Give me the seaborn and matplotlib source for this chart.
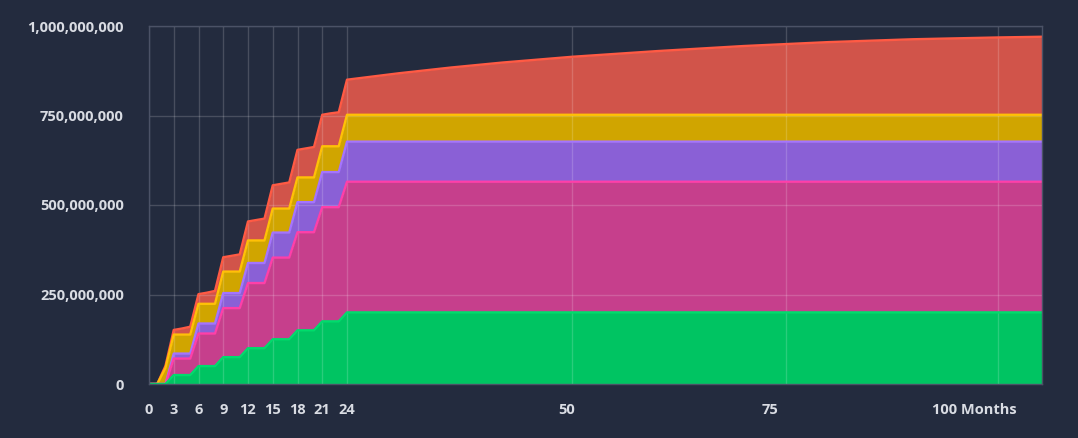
import numpy as np
import pandas as pd
import matplotlib
matplotlib.use("Agg")
import matplotlib.pyplot as plt
import seaborn as sns
from matplotlib.ticker import FuncFormatter
from matplotlib.transforms import ScaledTranslation

# ---------------- data (millions of tokens) ----------------
months = list(range(0, 25)) + [30, 36, 42, 50, 60, 70, 80, 90, 100, 105]

green = [0, 0, 0, 25, 25, 25, 50, 50, 50, 75, 75, 75, 100, 100, 100, 125, 125, 125,
         150, 150, 150, 175, 175, 175, 200] + [200] * 10
pink = [0, 0, 0, 46, 46, 46, 91, 91, 91, 137, 137, 137, 182, 182, 182, 228, 228, 228,
        274, 274, 274, 319, 319, 319, 365] + [365] * 10
purple = [0, 0, 0, 14, 14, 14, 28, 28, 28, 42, 42, 42, 56, 56, 56, 70, 70, 70,
          84, 84, 84, 98, 98, 98, 112] + [112] * 10
gold = [0, 0, 45, 53, 53, 53, 55, 55, 55, 60, 60, 60, 63, 63, 63, 67, 67, 67,
        69, 69, 69, 72, 72, 72, 75] + [75] * 10
red = [0, 0, 6, 13, 17, 22, 27, 31, 36, 40, 44, 48, 53, 57, 61, 65, 69, 73,
       77, 81, 85, 88, 92, 95, 98] + [116, 132, 146, 162, 178, 192, 203, 211, 216, 218]

series_names = ["Green", "Pink", "Purple", "Gold", "Red"]
series_values = [green, pink, purple, gold, red]

x_ticks = [0, 3, 6, 9, 12, 15, 18, 21, 24, 50, 75, 100]
x_tick_labels = ["0", "3", "6", "9", "12", "15", "18", "21", "24", "50", "75", "100 Months"]
y_ticks = [0, 250_000_000, 500_000_000, 750_000_000, 1_000_000_000]

# ---------------- style ----------------
BG = "#232b3e"
GRID = "#4b5266"
TXT = "#d9dce3"
fill_colors = {"Green": "#00c462", "Pink": "#c63f8c", "Purple": "#8a60d6",
               "Gold": "#d0a500", "Red": "#d1544a"}
line_colors = {"Green": "#00dc6c", "Pink": "#ff3fa8", "Purple": "#a474ff",
               "Gold": "#ffc107", "Red": "#ff5a44"}

sns.set_theme(style="dark")
plt.rcParams["font.family"] = ["Open Sans", "DejaVu Sans"]

fig = plt.figure(figsize=(10.78, 4.38), dpi=100, facecolor=BG)
ax = fig.add_axes([149 / 1078, 1 - 384 / 438, (1042 - 149) / 1078, (384 - 26) / 438])
ax.set_facecolor(BG)

# piecewise scale matching the reference's month spacing
knots = [0, 24, 50, 75, 100, 105]
pos = [0, 198, 423, 637, 849, 893]
fwd = lambda v: np.interp(v, knots, pos)
inv = lambda p: np.interp(p, pos, knots)
ax.set_xscale("function", functions=(fwd, inv))

x = np.array(months, dtype=float)
vals = np.array(series_values, dtype=float) * 1e6
cum = np.cumsum(vals, axis=0)
lower = np.zeros_like(x)
for i, name in enumerate(series_names):
    ax.fill_between(x, lower, cum[i], color=fill_colors[name], linewidth=0, zorder=1)
    lower = cum[i]

df = pd.concat([pd.DataFrame({"month": x, "value": cum[i], "series": name})
                for i, name in enumerate(series_names)])
hue_order = ["Red", "Gold", "Purple", "Pink", "Green"]
sns.lineplot(data=df, x="month", y="value", hue="series", hue_order=hue_order,
             palette=line_colors, linewidth=1.7, legend=False, ax=ax, zorder=3,
             estimator=None, sort=True)

ax.set_xlim(0, 105)
ax.set_ylim(0, 1_000_000_000)
ax.set_xticks(x_ticks)
ax.set_xticklabels(x_tick_labels)
ax.set_yticks(y_ticks)
ax.yaxis.set_major_formatter(FuncFormatter(lambda v, p: f"{int(v):,}"))
ax.set_xlabel("")
ax.set_ylabel("")

ax.set_axisbelow(False)
ax.grid(True, color="white", alpha=0.17, linewidth=1.0, zorder=2)
for s in ax.spines.values():
    s.set_visible(True)
    s.set_color(GRID)
    s.set_linewidth(1.0)
    s.set_zorder(4)

ax.tick_params(axis="both", length=0, colors=TXT, labelsize=10.5)
ax.tick_params(axis="y", pad=18)
ax.tick_params(axis="x", pad=14)
for lab in ax.get_xticklabels() + ax.get_yticklabels():
    lab.set_fontweight("bold")
    lab.set_color(TXT)

# fine offsets of the later x labels as in the reference
shifts = {"50": -5, "75": -16, "100 Months": -24}
for lab in ax.get_xticklabels():
    t = lab.get_text()
    if t in shifts:
        lab.set_transform(lab.get_transform() +
                          ScaledTranslation(shifts[t] / 100, 0, fig.dpi_scale_trans))

fig.savefig("out.png", dpi=100, facecolor=BG)
